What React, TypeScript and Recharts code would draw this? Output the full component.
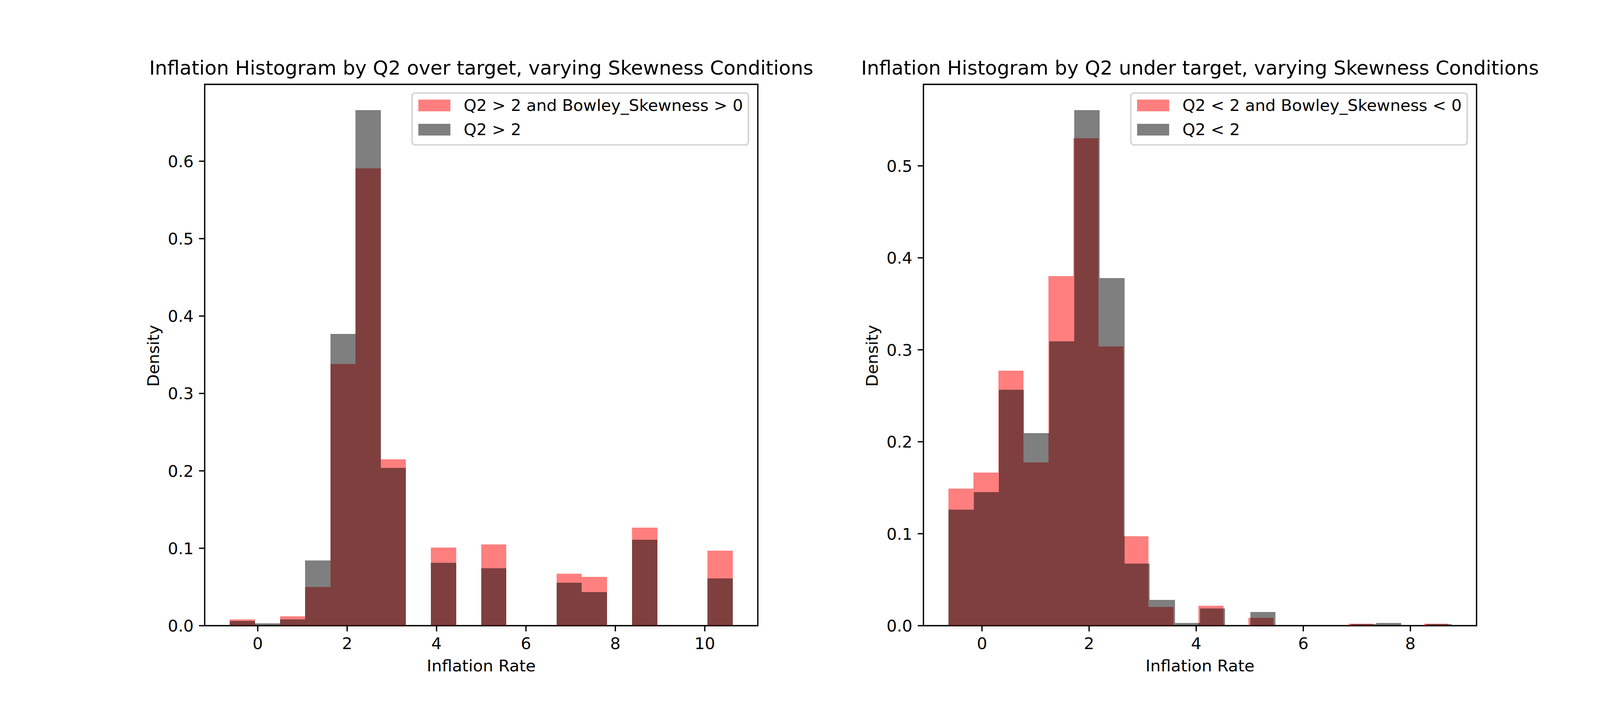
import React from "react";
import { BarChart, Bar, XAxis, YAxis, ReferenceArea, Legend } from "recharts";

const FONT = "DejaVu Sans";
const PT = 300 / 72; // matplotlib points -> px at 300 dpi

// ---- left panel: Q2 over target ----
const overTitle = "Inflation Histogram by Q2 over target, varying Skewness Conditions";
const overLabels = ["Q2 > 2 and Bowley_Skewness > 0", "Q2 > 2"];
const overStart = -0.624;
const overRedWidth = 0.5624;
const overGrayWidth = 0.5624;
const overRed = [
  0.0081, 0, 0.0121, 0.05, 0.338, 0.591, 0.215, 0, 0.101, 0,
  0.105, 0, 0, 0.067, 0.063, 0, 0.1266, 0, 0, 0.097,
];
const overGray = [
  0.0061, 0.003, 0.0081, 0.0845, 0.377, 0.666, 0.204, 0, 0.081, 0,
  0.074, 0, 0, 0.0556, 0.0435, 0, 0.111, 0, 0, 0.061,
];
const overXTicks = [0, 2, 4, 6, 8, 10];
const overYTicks = [0, 0.1, 0.2, 0.3, 0.4, 0.5, 0.6];

// ---- right panel: Q2 under target ----
const underTitle = "Inflation Histogram by Q2 under target, varying Skewness Conditions";
const underLabels = ["Q2 < 2 and Bowley_Skewness < 0", "Q2 < 2"];
const underStart = -0.624;
const underRedWidth = 0.4669;
const underGrayWidth = 0.4695;
const underRed = [
  0.149, 0.1664, 0.2775, 0.1774, 0.38, 0.53, 0.3035, 0.0972, 0.0203, 0,
  0.0217, 0, 0.0085, 0, 0, 0, 0.0021, 0, 0, 0.0021,
];
const underGray = [
  0.126, 0.1452, 0.2567, 0.2095, 0.309, 0.5606, 0.378, 0.0675, 0.028, 0.003,
  0.0187, 0, 0.0149, 0, 0, 0, 0.0017, 0.003, 0, 0.0017,
];
const underXTicks = [0, 2, 4, 6, 8];
const underYTicks = [0, 0.1, 0.2, 0.3, 0.4, 0.5];

const CHART_W = 2100;
const CHART_H = 1800;
const PLOT_W = 1416;
const PLOT_TOP = 216;
const PLOT_BOTTOM = 1602;
const AXIS_BOX = 100;
const TICK_LEN = 3.5 * PT;
const LINE_W = 0.8 * PT;
const TICK_FONT = 10 * PT;

type PanelProps = {
  title: string;
  labels: string[];
  start: number;
  redWidth: number;
  grayWidth: number;
  red: number[];
  gray: number[];
  xTicks: number[];
  yTicks: number[];
  plotLeft: number;
};

function LegendBox({ labels }: { labels: string[] }) {
  const colors = ["#ff0000", "#000000"];
  return (
    <svg width={865} height={137} style={{ display: "block", overflow: "visible" }}>
      <rect
        x={2}
        y={2}
        width={861}
        height={133}
        rx={8}
        fill="#ffffff"
        fillOpacity={0.8}
        stroke="#cccccc"
        strokeOpacity={0.8}
        strokeWidth={PT}
      />
      {labels.map((label, i) => (
        <g key={label}>
          <rect x={18} y={19 + i * 62} width={82} height={30} fill={colors[i]} fillOpacity={0.5} />
          <text x={134} y={48 + i * 62} fontSize={TICK_FONT} fontFamily={FONT} fill="#000">
            {label}
          </text>
        </g>
      ))}
    </svg>
  );
}

// x tick: mark below the spine, label baseline a fixed distance under it
function XTick(props: any) {
  const { x, payload } = props;
  return (
    <g>
      <line x1={x} x2={x} y1={PLOT_BOTTOM} y2={PLOT_BOTTOM + TICK_LEN} stroke="#000" strokeWidth={LINE_W} />
      <text x={x} y={PLOT_BOTTOM + 60} textAnchor="middle" fontSize={TICK_FONT} fontFamily={FONT} fill="#000">
        {payload.value}
      </text>
    </g>
  );
}

function makeYTick(plotLeft: number) {
  return function YTick(props: any) {
    const { y, payload } = props;
    return (
      <g>
        <line x1={plotLeft - TICK_LEN} x2={plotLeft} y1={y} y2={y} stroke="#000" strokeWidth={LINE_W} />
        <text
          x={plotLeft - 2 * TICK_LEN + 1}
          y={y + 15}
          textAnchor="end"
          fontSize={TICK_FONT}
          fontFamily={FONT}
          fill="#000"
        >
          {Number(payload.value).toFixed(1)}
        </text>
      </g>
    );
  };
}

function Panel(p: PanelProps) {
  const data = p.red.map((v, i) => ({
    redX: p.start + (i + 0.5) * p.redWidth,
    red: v,
    grayX: p.start + (i + 0.5) * p.grayWidth,
    gray: p.gray[i],
  }));
  const lo = p.start;
  const hi = Math.max(p.start + p.red.length * p.redWidth, p.start + p.gray.length * p.grayWidth);
  const pad = (hi - lo) * 0.05;
  const xMin = lo - pad;
  const xMax = hi + pad;
  const yMax = Math.max(...p.red, ...p.gray) * 1.05;
  const pxPerUnit = PLOT_W / (xMax - xMin);
  const redBar = p.redWidth * pxPerUnit - 0.01;
  const grayBar = p.grayWidth * pxPerUnit - 0.01;
  const cx = p.plotLeft + PLOT_W / 2;
  const yLabelX = p.plotLeft - 117;
  const yLabelY = (PLOT_TOP + PLOT_BOTTOM) / 2 + 2;

  return (
    <BarChart
      width={CHART_W}
      height={CHART_H}
      data={data}
      margin={{
        top: PLOT_TOP,
        left: p.plotLeft - AXIS_BOX,
        right: CHART_W - p.plotLeft - PLOT_W,
        bottom: CHART_H - PLOT_BOTTOM - AXIS_BOX,
      }}
    >
      <text x={cx} y={191} textAnchor="middle" fontSize={12 * PT} fontFamily={FONT} fill="#000">
        {p.title}
      </text>
      <text x={cx} y={1719} textAnchor="middle" fontSize={TICK_FONT} fontFamily={FONT} fill="#000">
        Inflation Rate
      </text>
      <text
        x={yLabelX}
        y={yLabelY}
        textAnchor="middle"
        fontSize={TICK_FONT}
        fontFamily={FONT}
        fill="#000"
        transform={`rotate(-90, ${yLabelX}, ${yLabelY})`}
      >
        Density
      </text>
      <XAxis
        xAxisId="red"
        dataKey="redX"
        type="number"
        domain={[xMin, xMax]}
        ticks={p.xTicks}
        allowDataOverflow
        interval={0}
        height={AXIS_BOX}
        axisLine={false}
        tickLine={false}
        tick={<XTick />}
      />
      <XAxis xAxisId="gray" dataKey="grayX" type="number" domain={[xMin, xMax]} allowDataOverflow hide />
      <YAxis
        type="number"
        domain={[0, yMax]}
        ticks={p.yTicks}
        allowDataOverflow
        interval={0}
        width={AXIS_BOX}
        axisLine={false}
        tickLine={false}
        tick={makeYTick(p.plotLeft)}
      />
      <Bar
        xAxisId="red"
        dataKey="red"
        name={p.labels[0]}
        fill="#ff0000"
        fillOpacity={0.5}
        shapeRendering="crispEdges"
        barSize={redBar}
        isAnimationActive={false}
      />
      <Bar
        xAxisId="gray"
        dataKey="gray"
        name={p.labels[1]}
        fill="#000000"
        fillOpacity={0.5}
        shapeRendering="crispEdges"
        barSize={grayBar}
        isAnimationActive={false}
      />
      <ReferenceArea
        xAxisId="red"
        x1={xMin}
        x2={xMax}
        y1={0}
        y2={yMax}
        fill="none"
        fillOpacity={0}
        stroke="#000"
        strokeWidth={LINE_W}
        ifOverflow="visible"
      />
      <Legend
        layout="vertical"
        verticalAlign="middle"
        align="center"
        wrapperStyle={{
          left: p.plotLeft + PLOT_W - 865 - 22,
          top: 236,
          right: "auto",
          bottom: "auto",
          width: 865,
          height: 137,
        }}
        content={() => <LegendBox labels={p.labels} />}
      />
    </BarChart>
  );
}

export default function App() {
  return (
    <div
      style={{
        position: "absolute",
        left: 0,
        top: 0,
        width: 4200,
        height: 1800,
        background: "#ffffff",
        display: "flex",
        fontFamily: FONT,
      }}
    >
      <Panel
        title={overTitle}
        labels={overLabels}
        start={overStart}
        redWidth={overRedWidth}
        grayWidth={overGrayWidth}
        red={overRed}
        gray={overGray}
        xTicks={overXTicks}
        yTicks={overYTicks}
        plotLeft={524}
      />
      <Panel
        title={underTitle}
        labels={underLabels}
        start={underStart}
        redWidth={underRedWidth}
        grayWidth={underGrayWidth}
        red={underRed}
        gray={underGray}
        xTicks={underXTicks}
        yTicks={underYTicks}
        plotLeft={264}
      />
    </div>
  );
}
